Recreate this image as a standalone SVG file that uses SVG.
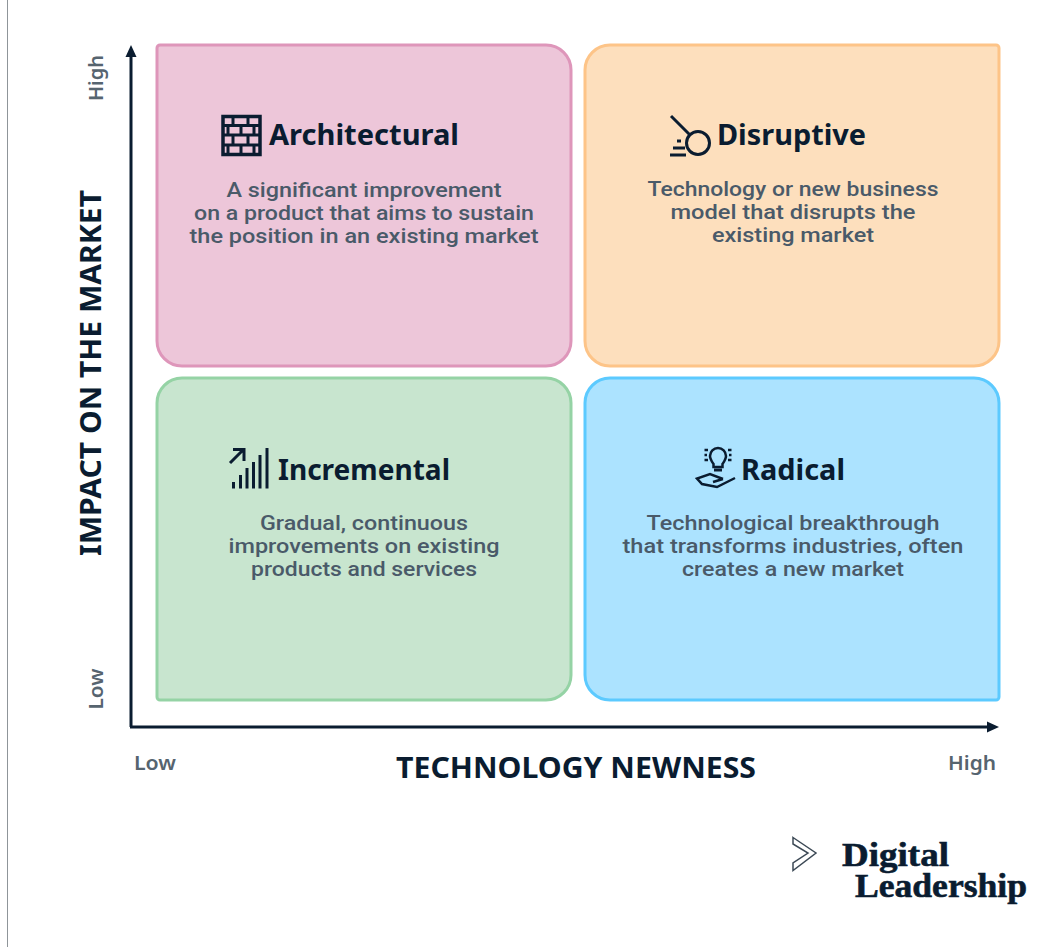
<svg xmlns="http://www.w3.org/2000/svg" width="1055" height="947" viewBox="0 0 1055 947">
<style>
text{font-family:"Noto Sans","Open Sans",sans-serif}
.t{font-size:28px;font-weight:700;fill:#0a1c30}
.b{font-size:19.500px;font-weight:500;fill:#4a5a69;text-anchor:middle;font-family:Roboto,"Noto Sans",sans-serif}
.ax{font-size:29px;font-weight:700;fill:#0a1c30;text-anchor:middle}
.lv{font-size:19.500px;font-weight:600;fill:#56646f;text-anchor:middle}
.box{stroke-width:3}
.ic{fill:none;stroke:#0a1c30;stroke-width:3}
.ax-line{fill:none;stroke:#0a1c30;stroke-width:3}
.logo{font-size:33px;font-weight:700;fill:#0a1c30;stroke:#0a1c30;stroke-width:.6px;font-family:"Liberation Serif","DejaVu Serif",serif}
</style>
<defs>
<marker id="ah" markerUnits="userSpaceOnUse" markerWidth="14" markerHeight="12" refX="1" refY="6" orient="auto"><path d="M0 0.500L12 6L0 11.500Z" fill="#0a1c30"/></marker>
</defs>
<rect width="1055" height="947" fill="#fff"/>
<line x1="7.500" y1="0" x2="7.500" y2="947" stroke="#8f9599" stroke-width="1"/>
<g id="connectors">
<path class="ax-line" d="M131 727V56" marker-end="url(#ah)"/>
<path class="ax-line" d="M130 727H988" marker-end="url(#ah)"/>
</g>
<g id="architectural">
<path class="box" fill="#edc6d9" stroke="#de96ba" d="M160 45H546A25 25 0 0 1 571 70V341A25 25 0 0 1 546 366H182A25 25 0 0 1 157 341V48A3 3 0 0 1 160 45Z"/>
<g class="ic" style="stroke-width:3.500"><rect x="223" y="116.500" width="37" height="38"/><path d="M222 125.500H260M222 135H260M222 145H260M233 116V125M248 116V125M228 125V135M241 125V135M254 125V135M233 135V145M248 135V145M228 145V155M241 145V155M254 145V155" style="stroke-width:3"/></g>
<text class="t" x="269" y="145" textLength="190" lengthAdjust="spacingAndGlyphs">Architectural</text>
<text class="b" x="364" y="197" textLength="275" lengthAdjust="spacingAndGlyphs">A significant improvement</text>
<text class="b" x="364" y="220" textLength="340" lengthAdjust="spacingAndGlyphs">on a product that aims to sustain</text>
<text class="b" x="364" y="243" textLength="349" lengthAdjust="spacingAndGlyphs">the position in an existing market</text>
</g>
<g id="disruptive">
<path class="box" fill="#fddfbd" stroke="#fdc488" d="M610 45H996A3 3 0 0 1 999 48V341A25 25 0 0 1 974 366H610A25 25 0 0 1 585 341V70A25 25 0 0 1 610 45Z"/>
<g class="ic"><circle cx="698" cy="143" r="11.500"/><path d="M671 116L690 135"/><path d="M670 155H686M673 148H685"/><path d="M677 141H681"/></g>
<text class="t" x="717" y="145" textLength="149" lengthAdjust="spacingAndGlyphs">Disruptive</text>
<text class="b" x="793" y="196" textLength="291" lengthAdjust="spacingAndGlyphs">Technology or new business</text>
<text class="b" x="793" y="219" textLength="245" lengthAdjust="spacingAndGlyphs">model that disrupts the</text>
<text class="b" x="793" y="242" textLength="162" lengthAdjust="spacingAndGlyphs">existing market</text>
</g>
<g id="incremental">
<path class="box" fill="#c8e5cf" stroke="#95d3a5" d="M182 378H546A25 25 0 0 1 571 403V675A25 25 0 0 1 546 700H160A3 3 0 0 1 157 697V403A25 25 0 0 1 182 378Z"/>
<g class="ic"><path d="M233.500 488.500V482M240.500 488.500V475M247 488.500V468M253.500 488.500V462M260 488.500V455M267 488.500V448"/><path d="M230 463L243 450M233 449.500H244V461"/></g>
<text class="t" x="278" y="480" textLength="172" lengthAdjust="spacingAndGlyphs">Incremental</text>
<text class="b" x="364" y="530" textLength="208" lengthAdjust="spacingAndGlyphs">Gradual, continuous</text>
<text class="b" x="364" y="553" textLength="271" lengthAdjust="spacingAndGlyphs">improvements on existing</text>
<text class="b" x="364" y="576" textLength="226" lengthAdjust="spacingAndGlyphs">products and services</text>
</g>
<g id="radical">
<path class="box" fill="#ace3ff" stroke="#5ccaff" d="M610 378H974A25 25 0 0 1 999 403V697A3 3 0 0 1 996 700H610A25 25 0 0 1 585 675V403A25 25 0 0 1 610 378Z"/>
<g class="ic"><path d="M713.500 464C711.500 461 710 459 710 456A8 8 0 0 1 726 456C726 459 724.500 461 722.500 464V467H713.500Z" style="stroke-width:2.500"/><path d="M714 470H722"/><path d="M704.500 450H708M704.500 455H707M704.500 460H708M728 450H731.500M729 455H731.500M728 460H731.500" style="stroke-width:2.500"/><path d="M723 479L710 474L697 478.500L702 484L717 487L735 478M723 479L713 482" style="stroke-width:2.500"/></g>
<text class="t" x="741" y="480" textLength="104" lengthAdjust="spacingAndGlyphs">Radical</text>
<text class="b" x="793" y="530" textLength="293" lengthAdjust="spacingAndGlyphs">Technological breakthrough</text>
<text class="b" x="793" y="553" textLength="341" lengthAdjust="spacingAndGlyphs">that transforms industries, often</text>
<text class="b" x="793" y="576" textLength="222" lengthAdjust="spacingAndGlyphs">creates a new market</text>
</g>
<g id="axis-labels">
<text class="ax" transform="translate(101 373) rotate(-90)" textLength="366" lengthAdjust="spacingAndGlyphs">IMPACT ON THE MARKET</text>
<text class="ax" x="576" y="778" textLength="360" lengthAdjust="spacingAndGlyphs">TECHNOLOGY NEWNESS</text>
<text class="lv" transform="translate(103 78) rotate(-90)" textLength="46" lengthAdjust="spacingAndGlyphs">High</text>
<text class="lv" transform="translate(103 689) rotate(-90)" textLength="41" lengthAdjust="spacingAndGlyphs">Low</text>
<text class="lv" x="155" y="770" textLength="42" lengthAdjust="spacingAndGlyphs">Low</text>
<text class="lv" x="972" y="770" textLength="48" lengthAdjust="spacingAndGlyphs">High</text>
</g>
<g id="logo">
<path d="M793 837.500L816 853L793 870.500V863L808 853L793 844Z" fill="#fff" stroke="#3d4a56" stroke-width="1.500"/>
<text class="logo" x="842" y="866" textLength="107" lengthAdjust="spacingAndGlyphs">Digital</text>
<text class="logo" x="855" y="897" textLength="172" lengthAdjust="spacingAndGlyphs">Leadership</text>
</g>
</svg>
